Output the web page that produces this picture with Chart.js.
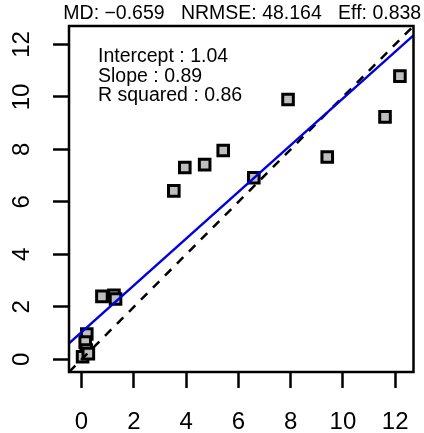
<!DOCTYPE html>
<html>
<head>
<meta charset="utf-8">
<script src="https://cdn.jsdelivr.net/npm/chart.js@4"></script>
<style>
  html, body { margin: 0; padding: 0; background: #fff; }
  #wrap { width: 424px; height: 433px; }
</style>
</head>
<body>
<div id="wrap"><canvas id="evalChart" width="424" height="433"></canvas></div>
<script>
const ctx = document.getElementById("evalChart");

const obs = [3.53, 3.95, 4.71, 5.42, 6.59, 7.90, 9.40, 11.61, 12.18,
             0.78, 1.24, 1.30, 0.20, 0.14, 0.18, 0.04, 0.26];
const sim = [6.42, 7.31, 7.42, 7.96, 6.92, 9.90, 7.71, 9.24, 10.79,
             2.40, 2.44, 2.30, 0.97, 0.66, 0.36, 0.10, 0.22];

const axisMin = -0.48;
const axisMax = 12.70;
const tickValues = [0, 2, 4, 6, 8, 10, 12];

const intercept = 1.04;
const slope = 0.89;
const statsTitle = "MD: \u22120.659   NRMSE: 48.164   Eff: 0.838";
const fitLabels = ["Intercept : 1.04", "Slope : 0.89", "R squared : 0.86"];

const font = "'Liberation Sans', Arial, sans-serif";

// the fitted line and the 1:1 line, across the full axis range
const fitLine = [axisMin, axisMax].map((x) => ({ x: x, y: intercept + slope * x }));
const oneToOne = [axisMin, axisMax].map((x) => ({ x: x, y: x }));

const points = obs.map((x, i) => ({ x: x, y: sim[i] }));

// box round the plot area, the stats line above it and the fit text inside
// (the title runs wider than the plot, so it is drawn here, not squeezed by the title plugin)
const boxPlugin = {
  id: "boxAndText",
  afterDatasetsDraw(chart) {
    const c = chart.ctx;
    const a = chart.chartArea;
    c.save();
    c.strokeStyle = "#000";
    c.lineWidth = 2.5;
    c.strokeRect(a.left, a.top, a.right - a.left, a.bottom - a.top);
    c.fillStyle = "#000";
    c.textBaseline = "middle";

    c.font = "19.5px " + font;
    c.textAlign = "center";
    c.fillText(statsTitle, (a.left + a.right) / 2 + 1, 13.5);

    c.textAlign = "left";
    fitLabels.forEach((t, i) => c.fillText(t, a.left + 29, a.top + 31 + i * 19.5));
    c.restore();
  },
};

const tickAxis = {
  type: "linear",
  min: axisMin,
  max: axisMax,
  afterBuildTicks(scale) {
    scale.ticks = tickValues.map((v) => ({ value: v }));
  },
  grid: {
    drawOnChartArea: false,
    drawTicks: true,
    tickLength: 16,
    tickWidth: 2.5,
    tickColor: "#000",
  },
  border: { display: false },
};

new Chart(ctx, {
  type: "scatter",
  data: {
    datasets: [
      {
        type: "line",
        data: fitLine,
        borderColor: "#0000e0",
        borderWidth: 2.5,
        pointRadius: 0,
        fill: false,
      },
      {
        type: "line",
        data: oneToOne,
        borderColor: "#000",
        borderWidth: 2.5,
        borderDash: [9, 8],
        pointRadius: 0,
        fill: false,
      },
      {
        data: points,
        pointStyle: "rect",
        pointRadius: 7.5,
        pointBorderWidth: 3,
        pointBackgroundColor: "#bebebe",
        pointBorderColor: "#000",
      },
    ],
  },
  options: {
    responsive: false,
    animation: false,
    layout: { padding: { left: 0, right: 8, top: 26, bottom: 0 } },
    scales: {
      x: Object.assign({}, tickAxis, {
        position: "bottom",
        afterFit(scale) {
          scale.height = 61;
          scale.paddingLeft = 0;
          scale.paddingRight = 0;
        },
        ticks: { color: "#000", font: { family: font, size: 24 }, padding: 20, maxRotation: 0 },
      }),
      y: Object.assign({}, tickAxis, {
        position: "left",
        afterFit(scale) {
          scale.width = 69;
          scale.paddingTop = 0;
          scale.paddingBottom = 0;
        },
        ticks: {
          color: "#000",
          font: { family: font, size: 24 },
          padding: 17,
          minRotation: 90,
          maxRotation: 90,
          crossAlign: "center",
        },
      }),
    },
    plugins: {
      legend: { display: false },
      tooltip: { enabled: false },
    },
  },
  plugins: [boxPlugin],
});
</script>
</body>
</html>
